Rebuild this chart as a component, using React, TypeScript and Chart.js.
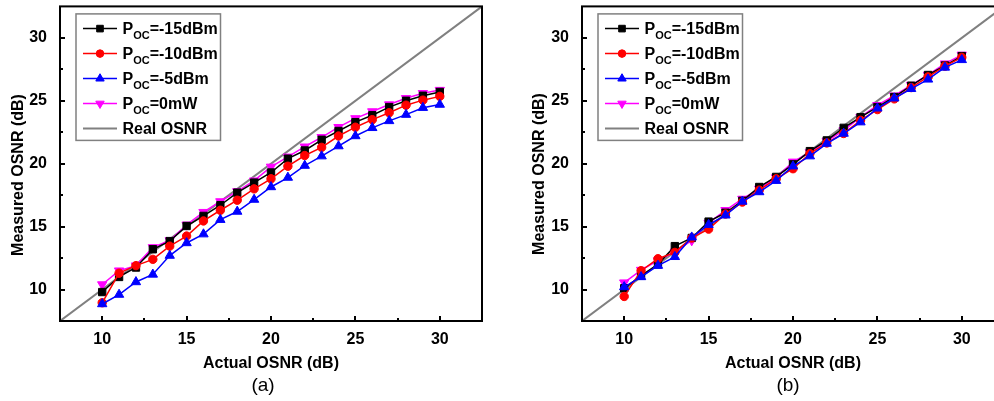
import React, { useEffect, useRef } from 'react';
import { Chart, registerables } from 'chart.js';

Chart.register(...registerables);

// ---------- data ----------
const actualOsnr = [10, 11, 12, 13, 14, 15, 16, 17, 18, 19, 20, 21, 22, 23, 24, 25, 26, 27, 28, 29, 30];

// panel (a)
const aM15 = [9.8, 11.0, 11.75, 13.2, 13.85, 15.05, 15.85, 16.7, 17.7, 18.5, 19.3, 20.4, 21.05, 21.9, 22.6, 23.3, 23.85, 24.5, 25.0, 25.4, 25.7];
const aM10 = [8.95, 11.3, 11.9, 12.4, 13.45, 14.25, 15.45, 16.3, 17.1, 18.0, 18.8, 19.8, 20.65, 21.3, 22.2, 22.9, 23.5, 24.05, 24.65, 25.05, 25.35];
const aM5 = [8.85, 9.6, 10.6, 11.2, 12.7, 13.7, 14.4, 15.55, 16.2, 17.15, 18.15, 18.9, 19.85, 20.6, 21.4, 22.2, 22.85, 23.4, 23.9, 24.45, 24.7];
const a0mW = [10.4, 11.5, 11.9, 13.35, 13.9, 15.15, 16.15, 17.0, 17.8, 18.65, 19.75, 20.55, 21.35, 22.1, 22.9, 23.6, 24.15, 24.7, 25.2, 25.6, 25.85];

// panel (b)
const bM15 = [10.1, 11.1, 12.0, 13.45, 14.1, 15.4, 16.1, 17.05, 18.15, 18.95, 19.95, 21.0, 21.85, 22.85, 23.7, 24.5, 25.3, 26.2, 27.05, 27.8, 28.55];
const bM10 = [9.45, 11.5, 12.45, 12.95, 14.1, 14.8, 16.0, 16.95, 17.9, 18.8, 19.6, 20.8, 21.65, 22.4, 23.45, 24.3, 25.15, 26.05, 26.9, 27.75, 28.45];
const bM5 = [10.2, 11.0, 11.9, 12.6, 14.15, 15.15, 15.9, 17.0, 17.75, 18.65, 19.8, 20.6, 21.6, 22.4, 23.3, 24.4, 25.2, 25.95, 26.7, 27.65, 28.25];
const b0mW = [10.55, 11.55, 12.3, 13.0, 13.9, 15.3, 16.3, 17.2, 18.0, 18.9, 20.15, 20.9, 21.8, 22.65, 23.7, 24.65, 25.4, 26.25, 27.05, 27.95, 28.65];

// reference line y = x over the axis range
const realOsnr = [7.5, 32.5];

const axisMin = 7.5;
const axisMax = 32.5;
const tickStep = 2.5;
const labelStep = 5;

const xTitle = 'Actual OSNR (dB)';
const yTitle = 'Measured OSNR (dB)';

const legendMain = ['P', 'P', 'P', 'P', 'Real OSNR'];
const legendSub = ['OC', 'OC', 'OC', 'OC', ''];
const legendRest = ['=-15dBm', '=-10dBm', '=-5dBm', '=0mW', ''];

// ---------- styling ----------
const FONT = 'Arial, "Liberation Sans", Helvetica, sans-serif';
const seriesColors = ['#000000', '#ff0000', '#0000ff', '#ff00ff', '#808080'];
const seriesStyles = ['rect', 'circle', 'triangle', 'triangle', 'none'];
const seriesRot = [0, 0, 0, 180, 0];
const seriesRadius = [5.2, 4.2, 5.4, 5.4, 0];
const seriesOrder = [2, 1, 0, 3, 10];

type PanelProps = {
  series: number[][];
  caption: string;
  left: number;
  captionX: number;
  yTitleX: number;
  yTitleY: number;
};

function drawMarker(ctx: CanvasRenderingContext2D, style: string, x: number, y: number, r: number, rot: number, color: string) {
  ctx.save();
  ctx.fillStyle = color;
  ctx.strokeStyle = color;
  ctx.lineWidth = 1;
  ctx.beginPath();
  if (style === 'rect') {
    const s = Math.SQRT1_2 * r;
    ctx.rect(x - s, y - s, 2 * s, 2 * s);
  } else if (style === 'circle') {
    ctx.arc(x, y, r, 0, Math.PI * 2);
  } else if (style === 'triangle') {
    let rad = (rot * Math.PI) / 180;
    ctx.moveTo(x + Math.sin(rad) * r, y - Math.cos(rad) * r);
    rad += (2 * Math.PI) / 3;
    ctx.lineTo(x + Math.sin(rad) * r, y - Math.cos(rad) * r);
    rad += (2 * Math.PI) / 3;
    ctx.lineTo(x + Math.sin(rad) * r, y - Math.cos(rad) * r);
    ctx.closePath();
  }
  ctx.fill();
  ctx.stroke();
  ctx.restore();
}

function Panel({ series, caption, left, captionX, yTitleX, yTitleY }: PanelProps) {
  const ref = useRef<HTMLCanvasElement | null>(null);

  useEffect(() => {
    const canvas = ref.current;
    if (!canvas) return;

    const datasets: any[] = series.map((vals, i) => ({
      label: legendMain[i] + legendSub[i] + legendRest[i],
      data: actualOsnr.map((x, k) => ({ x, y: vals[k] })),
      borderColor: seriesColors[i],
      backgroundColor: seriesColors[i],
      borderWidth: 1.5,
      pointStyle: seriesStyles[i],
      pointRotation: seriesRot[i],
      pointRadius: seriesRadius[i],
      pointBorderWidth: 1,
      pointBackgroundColor: seriesColors[i],
      pointBorderColor: seriesColors[i],
      tension: 0,
      order: seriesOrder[i],
    }));
    datasets.push({
      label: legendMain[4],
      data: realOsnr.map((v) => ({ x: v, y: v })),
      borderColor: seriesColors[4],
      backgroundColor: seriesColors[4],
      borderWidth: 2,
      pointRadius: 0,
      order: seriesOrder[4],
    });

    const decor = {
      id: 'decor',
      afterDraw(chart: any) {
        const ctx: CanvasRenderingContext2D = chart.ctx;
        const { left: L, right: R, top: T, bottom: B } = chart.chartArea;
        const xs = chart.scales.x;
        const ys = chart.scales.y;
        ctx.save();
        // frame
        ctx.strokeStyle = '#000';
        ctx.lineWidth = 2;
        ctx.strokeRect(L, T, R - L, B - T);
        // inward ticks
        ctx.beginPath();
        xs.ticks.forEach((t: any) => {
          const v = t.value;
          if (v <= axisMin || v >= axisMax) return;
          const len = Math.abs(v % labelStep) < 1e-9 ? 5 : 3;
          const px = Math.round(xs.getPixelForValue(v));
          ctx.moveTo(px, B);
          ctx.lineTo(px, B - len);
        });
        ys.ticks.forEach((t: any) => {
          const v = t.value;
          if (v <= axisMin || v >= axisMax) return;
          const len = Math.abs(v % labelStep) < 1e-9 ? 5 : 3;
          const py = Math.round(ys.getPixelForValue(v));
          ctx.moveTo(L, py);
          ctx.lineTo(L + len, py);
        });
        ctx.stroke();

        // axis titles
        ctx.fillStyle = '#000';
        ctx.font = `bold 16px ${FONT}`;
        ctx.textAlign = 'center';
        ctx.textBaseline = 'middle';
        ctx.fillText(xTitle, (L + R) / 2, 364);
        ctx.save();
        ctx.translate(yTitleX, yTitleY);
        ctx.rotate(-Math.PI / 2);
        ctx.fillText(yTitle, 0, 0);
        ctx.restore();

        // caption
        ctx.font = `19px ${FONT}`;
        ctx.fillText(caption, captionX, 386);

        // legend
        const bx = L + 16;
        const by = T + 7.5;
        const bw = 144.5;
        const bh = 126.5;
        ctx.fillStyle = '#fff';
        ctx.fillRect(bx, by, bw, bh);
        ctx.strokeStyle = '#808080';
        ctx.lineWidth = 1.5;
        ctx.strokeRect(bx, by, bw, bh);
        for (let i = 0; i < 5; i++) {
          const ry = by + 14.7 + i * 25;
          ctx.strokeStyle = seriesColors[i];
          ctx.lineWidth = i === 4 ? 2 : 1.5;
          ctx.beginPath();
          ctx.moveTo(bx + 7, ry);
          ctx.lineTo(bx + 41, ry);
          ctx.stroke();
          if (i < 4) drawMarker(ctx, seriesStyles[i], bx + 24, ry, seriesRadius[i] * 0.9, seriesRot[i], seriesColors[i]);
          ctx.fillStyle = '#000';
          ctx.textAlign = 'left';
          ctx.textBaseline = 'alphabetic';
          let tx = bx + 46.5;
          ctx.font = `bold 16px ${FONT}`;
          ctx.fillText(legendMain[i], tx, ry + 5.8);
          tx += ctx.measureText(legendMain[i]).width;
          if (legendSub[i]) {
            ctx.font = `bold 11px ${FONT}`;
            ctx.fillText(legendSub[i], tx, ry + 10.2);
            tx += ctx.measureText(legendSub[i]).width;
          }
          if (legendRest[i]) {
            ctx.font = `bold 16px ${FONT}`;
            ctx.fillText(legendRest[i], tx, ry + 5.8);
          }
        }
        ctx.restore();
      },
    };

    const tickFont = { family: FONT, size: 16, weight: 'bold' as const };
    const labelCb = (v: any) => (Math.abs(Number(v) % labelStep) < 1e-9 ? String(v) : '');

    const chart = new Chart(canvas, {
      type: 'line',
      data: { datasets },
      options: {
        animation: false,
        responsive: false,
        maintainAspectRatio: false,
        layout: { padding: { left: 0, right: 15, top: 6, bottom: 0 } },
        plugins: {
          legend: { display: false },
          tooltip: { enabled: false },
          title: { display: false },
        },
        scales: {
          x: {
            type: 'linear',
            position: 'bottom',
            min: axisMin,
            max: axisMax,
            grid: { display: false },
            border: { display: false },
            ticks: {
              stepSize: tickStep,
              autoSkip: false,
              maxRotation: 0,
              padding: 1,
              color: '#000',
              font: tickFont,
              callback: labelCb,
            },
            afterFit: (s: any) => {
              s.height = 80;
              s.paddingLeft = 0;
              s.paddingRight = 0;
            },
          },
          y: {
            type: 'linear',
            position: 'left',
            min: axisMin,
            max: axisMax,
            grid: { display: false },
            border: { display: false },
            ticks: {
              stepSize: tickStep,
              autoSkip: false,
              padding: 5,
              color: '#000',
              font: tickFont,
              callback: labelCb,
            },
            afterFit: (s: any) => {
              s.width = 60;
              s.paddingTop = 0;
              s.paddingBottom = 0;
            },
          },
        },
      } as any,
      plugins: [decor],
    });

    return () => chart.destroy();
  }, [series, caption, captionX, yTitleX, yTitleY]);

  return (
    <canvas
      ref={ref}
      width={497}
      height={401}
      style={{ position: 'absolute', left, top: 0, width: 497, height: 401, display: 'block' }}
    />
  );
}

const seriesA = [aM15, aM10, aM5, a0mW];
const seriesB = [bM15, bM10, bM5, b0mW];

export default function App() {
  return (
    <div
      style={{
        position: 'fixed',
        left: 0,
        top: 0,
        width: 994,
        height: 401,
        overflow: 'hidden',
        background: '#fff',
      }}
    >
      <Panel series={seriesA} caption="(a)" left={0} captionX={263} yTitleX={18.5} yTitleY={175} />
      <Panel series={seriesB} caption="(b)" left={522} captionX={266} yTitleX={18} yTitleY={174} />
    </div>
  );
}
